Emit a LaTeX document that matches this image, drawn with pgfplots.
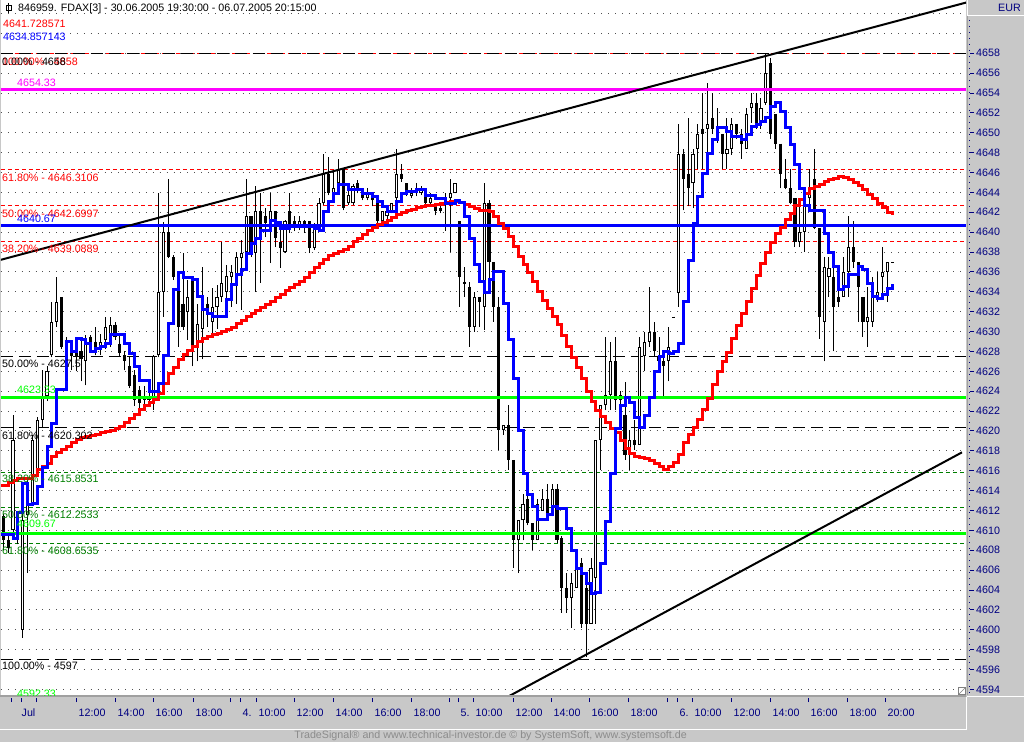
\documentclass[border=0pt]{standalone}
\usepackage{fontspec}
\setmainfont{Liberation Sans}
\usepackage{pgfplots}
\usepackage{pgfplotstable}
\pgfplotsset{compat=1.18}

\definecolor{panelgray}{RGB}{200,200,200}
\definecolor{edgegray}{RGB}{160,160,160}
\definecolor{navytext}{RGB}{0,0,128}
\definecolor{fibgreen}{RGB}{0,128,0}
\definecolor{levelgreen}{RGB}{0,255,0}
\definecolor{levelmagenta}{RGB}{255,0,255}
\definecolor{gridgray}{RGB}{80,80,80}
\definecolor{footgray}{RGB}{140,140,140}

\newcommand{\lbl}{\fontsize{10.7}{12}\selectfont}

% FDAX 15 min bars, x = bar number
\pgfplotstableread{
i o h l c
1 4611.4 4611.6 4608.0 4609.0
2 4609.0 4609.4 4607.7 4608.2
3 4610.0 4621.6 4609.4 4619.1
4 4611.0 4611.8 4608.6 4609.5
5 4600.0 4612.0 4599.2 4611.0
6 4611.5 4615.1 4605.7 4614.5
7 4612.7 4619.6 4612.5 4619.1
8 4615.8 4621.4 4615.6 4621.1
9 4621.1 4626.1 4620.4 4623.5
10 4623.5 4626.5 4623.0 4626.0
11 4627.6 4633.0 4627.4 4631.0
12 4631.0 4635.5 4630.5 4633.0
13 4633.5 4633.5 4628.2 4628.5
14 4628.2 4629.5 4627.6 4629.0
15 4628.0 4629.2 4626.1 4627.5
16 4628.0 4628.8 4626.0 4627.5
17 4628.0 4629.2 4625.0 4627.2
18 4627.0 4629.7 4624.6 4628.8
19 4629.5 4629.7 4628.0 4628.8
20 4629.0 4630.5 4627.6 4628.3
21 4628.5 4629.8 4627.6 4629.0
22 4629.2 4631.5 4628.2 4630.5
23 4629.7 4631.5 4628.5 4630.7
24 4630.7 4631.0 4629.2 4629.5
25 4628.8 4629.7 4627.5 4627.8
26 4627.6 4628.0 4626.1 4627.0
27 4626.5 4627.5 4624.3 4624.5
28 4625.6 4626.1 4622.5 4623.1
29 4624.1 4624.5 4621.6 4622.8
30 4623.5 4624.5 4622.5 4623.1
31 4623.1 4624.8 4622.5 4623.5
32 4623.1 4627.6 4622.1 4627.5
33 4627.6 4643.9 4627.4 4634.0
34 4634.0 4641.0 4631.5 4640.0
35 4640.0 4645.4 4637.4 4637.5
36 4637.5 4637.7 4635.2 4635.5
37 4634.2 4634.4 4628.5 4630.5
38 4632.8 4637.9 4630.2 4630.5
39 4632.0 4635.2 4629.2 4633.5
40 4635.4 4635.5 4626.5 4628.5
41 4628.5 4632.8 4627.0 4630.8
42 4630.3 4636.5 4627.2 4633.5
43 4632.8 4633.5 4630.5 4632.0
44 4631.0 4634.4 4629.5 4632.5
45 4632.5 4634.7 4630.3 4633.5
46 4633.5 4639.0 4633.0 4634.9
47 4634.0 4636.7 4633.0 4635.6
48 4635.5 4636.7 4632.5 4636.0
49 4635.0 4638.0 4632.8 4637.5
50 4637.4 4639.2 4632.2 4637.9
51 4638.0 4645.4 4637.7 4641.6
52 4641.6 4641.6 4637.5 4637.9
53 4637.9 4644.6 4634.0 4642.1
54 4642.1 4643.9 4634.9 4639.9
55 4641.6 4642.4 4639.5 4640.9
56 4640.9 4643.9 4636.9 4642.1
57 4642.1 4642.1 4638.5 4639.4
58 4639.0 4640.2 4636.4 4638.4
59 4638.0 4641.2 4637.9 4641.1
60 4642.1 4643.9 4639.9 4640.2
61 4641.1 4641.6 4640.1 4640.6
62 4640.6 4641.6 4640.2 4641.1
63 4641.1 4641.2 4639.9 4640.4
64 4641.1 4641.1 4637.9 4638.4
65 4638.4 4640.9 4638.2 4640.6
66 4640.7 4643.4 4640.4 4642.9
67 4642.9 4647.9 4642.7 4645.9
68 4645.9 4647.6 4643.7 4643.9
69 4643.9 4646.1 4643.7 4644.4
70 4644.9 4647.4 4644.4 4646.4
71 4646.4 4646.4 4642.2 4642.4
72 4642.9 4644.9 4642.7 4643.7
73 4642.9 4644.8 4642.7 4644.6
74 4644.9 4645.3 4643.9 4644.4
75 4644.4 4644.4 4643.2 4643.4
76 4643.4 4644.4 4643.2 4643.9
77 4643.2 4643.6 4642.6 4643.4
78 4643.4 4643.4 4640.9 4641.1
79 4641.1 4642.1 4640.6 4642.1
80 4641.6 4642.6 4641.1 4642.1
81 4642.1 4642.9 4641.9 4642.9
82 4643.4 4648.4 4642.9 4645.9
83 4645.9 4646.9 4645.1 4645.4
84 4644.9 4644.9 4643.6 4643.9
85 4643.6 4644.4 4643.4 4643.9
86 4643.9 4644.9 4643.6 4644.4
87 4643.9 4644.6 4643.7 4644.4
88 4643.9 4644.4 4642.7 4642.9
89 4642.9 4643.9 4642.7 4643.4
90 4642.9 4642.9 4641.7 4642.1
91 4642.4 4642.7 4641.9 4642.1
92 4642.7 4643.9 4640.1 4643.4
93 4643.4 4645.4 4638.0 4643.9
94 4643.9 4644.9 4643.9 4644.9
95 4641.1 4641.1 4632.5 4635.5
96 4635.0 4636.5 4633.5 4634.8
97 4634.5 4635.0 4628.5 4630.5
98 4630.5 4634.0 4630.0 4633.5
99 4633.5 4633.5 4630.5 4633.0
100 4632.5 4644.9 4630.2 4642.9
101 4642.9 4643.2 4635.2 4637.0
102 4637.0 4637.0 4631.0 4632.5
103 4632.5 4633.5 4618.1 4620.1
104 4620.1 4620.6 4619.6 4620.6
105 4620.6 4622.6 4616.1 4617.1
106 4617.1 4617.1 4606.2 4609.0
107 4609.0 4611.0 4605.7 4611.0
108 4611.0 4613.7 4609.0 4612.7
109 4613.2 4613.7 4610.5 4610.7
110 4610.7 4610.7 4608.0 4609.0
111 4609.0 4613.2 4609.0 4612.7
112 4612.0 4614.2 4612.0 4613.2
113 4613.2 4614.7 4611.4 4611.5
114 4612.0 4614.7 4611.4 4614.2
115 4614.2 4614.7 4608.7 4609.0
116 4609.2 4609.4 4601.7 4604.2
117 4604.2 4605.7 4601.7 4603.2
118 4603.2 4605.7 4600.2 4604.7
119 4604.2 4607.2 4604.2 4606.2
120 4606.7 4607.2 4600.2 4600.6
121 4604.2 4604.7 4597.3 4600.6
122 4600.6 4607.2 4600.6 4606.2
123 4605.2 4619.1 4600.6 4619.1
124 4619.1 4622.6 4616.1 4622.6
125 4622.6 4629.5 4622.1 4623.6
126 4623.6 4629.0 4622.1 4627.0
127 4627.0 4629.5 4622.1 4623.1
128 4623.1 4624.0 4622.6 4623.6
129 4621.6 4624.9 4617.1 4617.6
130 4617.6 4620.1 4616.1 4619.1
131 4619.1 4621.1 4618.1 4618.6
132 4618.6 4629.5 4618.6 4628.5
133 4627.5 4630.0 4626.0 4629.0
134 4629.0 4634.5 4628.5 4630.0
135 4630.0 4631.0 4627.5 4628.0
136 4627.5 4629.5 4626.0 4627.0
137 4627.0 4628.0 4623.5 4626.5
138 4627.0 4630.5 4625.0 4628.5
139 4631.5 4631.5 4631.4 4631.4
140 4633.9 4650.9 4632.5 4647.9
141 4647.9 4648.4 4642.2 4645.4
142 4645.9 4651.5 4642.6 4644.4
143 4644.9 4648.4 4642.4 4647.9
144 4648.4 4650.9 4646.4 4649.9
145 4650.4 4654.0 4646.4 4649.9
146 4650.4 4655.0 4647.9 4650.9
147 4651.5 4654.0 4649.9 4650.4
148 4650.0 4652.5 4649.0 4650.4
149 4649.9 4649.9 4646.4 4647.9
150 4647.9 4651.5 4646.4 4648.4
151 4648.4 4651.5 4647.8 4650.9
152 4650.9 4650.9 4649.4 4649.9
153 4649.9 4650.4 4647.4 4648.9
154 4648.4 4652.5 4648.4 4651.9
155 4652.5 4654.0 4651.0 4653.0
156 4653.0 4654.0 4650.4 4651.0
157 4651.0 4653.5 4650.4 4652.5
158 4653.0 4658.0 4652.8 4656.0
159 4657.0 4657.5 4649.4 4649.9
160 4651.9 4651.9 4648.4 4648.9
161 4648.9 4648.9 4644.4 4645.9
162 4645.4 4647.4 4644.3 4644.4
163 4644.4 4646.4 4642.8 4642.9
164 4643.4 4643.4 4638.5 4639.0
165 4639.0 4642.6 4638.5 4640.0
166 4640.0 4643.4 4638.0 4642.6
167 4643.4 4646.4 4642.2 4644.4
168 4645.4 4648.4 4640.3 4640.4
169 4640.4 4640.4 4629.3 4631.5
170 4631.0 4637.5 4627.0 4636.5
171 4635.5 4637.5 4633.5 4636.4
172 4635.5 4637.5 4628.0 4632.5
173 4633.5 4635.5 4632.5 4633.0
174 4633.5 4637.5 4633.5 4636.0
175 4636.0 4641.6 4633.5 4638.5
176 4638.5 4641.1 4636.4 4637.0
177 4637.0 4637.0 4631.0 4634.5
178 4633.5 4633.5 4629.5 4631.0
179 4631.0 4634.5 4628.5 4631.5
180 4631.0 4635.5 4630.5 4633.5
181 4633.5 4636.0 4633.0 4634.0
182 4635.5 4638.5 4633.5 4636.0
183 4636.0 4637.0 4633.0 4637.0
184 4637.0 4637.0 4636.9 4636.9
}\candles

% stepped indicator lines (red and blue), one value per bar
\pgfplotstableread{
i red blue
0.5 4614.5 4609.6
1 4614.5 4609.6
2 4614.8 4609.6
3 4615.0 4609.2
4 4615.2 4611.8
5 4615.2 4614.7
6 4615.2 4612.6
7 4615.5 4612.7
8 4616.1 4614.4
9 4616.4 4616.3
10 4616.7 4618.4
11 4617.4 4620.8
12 4617.8 4624.2
13 4618.1 4624.2
14 4618.4 4629.0
15 4618.8 4628.0
16 4619.1 4629.3
17 4619.3 4629.2
18 4619.4 4628.8
19 4619.5 4628.0
20 4619.6 4628.3
21 4619.8 4628.5
22 4619.9 4628.8
23 4620.0 4629.7
24 4620.3 4629.7
25 4620.5 4629.7
26 4620.9 4628.8
27 4621.3 4627.8
28 4621.7 4626.5
29 4622.2 4625.1
30 4622.6 4625.1
31 4622.9 4624.0
32 4623.2 4624.0
33 4623.8 4624.8
34 4624.8 4627.6
35 4625.8 4630.8
36 4626.4 4634.2
37 4627.2 4635.9
38 4627.7 4635.4
39 4628.1 4635.4
40 4628.5 4635.2
41 4629.0 4633.5
42 4629.3 4632.2
43 4629.5 4631.8
44 4629.7 4631.5
45 4629.8 4631.5
46 4630.0 4631.5
47 4630.2 4633.2
48 4630.4 4634.7
49 4630.8 4635.7
50 4631.1 4636.2
51 4631.5 4637.9
52 4631.8 4638.9
53 4632.1 4639.4
54 4632.4 4640.2
55 4632.7 4640.2
56 4633.0 4641.2
57 4633.4 4641.0
58 4633.7 4640.4
59 4634.1 4640.4
60 4634.4 4640.6
61 4634.7 4640.6
62 4635.0 4640.6
63 4635.4 4640.6
64 4635.9 4640.6
65 4636.4 4640.4
66 4636.9 4640.2
67 4637.3 4642.1
68 4637.7 4643.1
69 4637.9 4643.9
70 4638.1 4644.8
71 4638.3 4644.8
72 4638.6 4644.3
73 4639.1 4644.3
74 4639.4 4644.3
75 4639.8 4643.9
76 4640.2 4643.9
77 4640.5 4643.6
78 4640.8 4643.1
79 4641.0 4642.6
80 4641.2 4642.1
81 4641.5 4642.1
82 4641.8 4643.1
83 4642.0 4643.9
84 4642.2 4644.1
85 4642.3 4644.1
86 4642.5 4644.3
87 4642.6 4644.3
88 4642.7 4643.7
89 4642.7 4643.7
90 4642.8 4643.4
91 4642.9 4643.4
92 4643.0 4642.9
93 4643.1 4642.9
94 4643.1 4643.2
95 4643.0 4643.0
96 4642.8 4641.6
97 4642.6 4639.4
98 4642.4 4636.7
99 4642.2 4635.0
100 4642.2 4633.9
101 4642.1 4635.2
102 4641.6 4636.0
103 4640.9 4636.0
104 4640.4 4632.8
105 4639.6 4629.2
106 4638.6 4625.3
107 4637.6 4620.1
108 4636.7 4615.7
109 4635.9 4613.6
110 4635.0 4612.4
111 4634.0 4611.1
112 4633.1 4611.1
113 4632.3 4611.6
114 4631.5 4612.4
115 4630.7 4612.2
116 4629.6 4612.2
117 4628.5 4610.2
118 4627.4 4608.0
119 4626.4 4606.2
120 4625.3 4605.7
121 4624.0 4604.7
122 4623.0 4603.7
123 4622.1 4603.8
124 4621.5 4606.7
125 4620.9 4610.9
126 4620.3 4615.7
127 4619.8 4620.3
128 4619.0 4622.6
129 4618.2 4623.4
130 4617.7 4622.9
131 4617.4 4621.4
132 4617.3 4620.4
133 4617.2 4621.6
134 4617.0 4623.4
135 4616.7 4626.0
136 4616.4 4627.5
137 4616.1 4628.0
138 4616.4 4627.8
139 4616.8 4628.0
140 4617.6 4628.8
141 4618.8 4633.0
142 4619.6 4637.2
143 4620.4 4640.9
144 4621.2 4643.6
145 4622.2 4645.9
146 4623.3 4647.9
147 4624.7 4649.3
148 4626.0 4650.5
149 4627.0 4650.5
150 4627.9 4650.1
151 4629.3 4649.6
152 4630.6 4649.6
153 4631.8 4649.3
154 4633.0 4649.8
155 4634.3 4650.6
156 4635.6 4650.8
157 4636.9 4651.1
158 4638.0 4651.5
159 4639.0 4652.6
160 4639.9 4653.0
161 4640.5 4652.1
162 4641.3 4650.5
163 4641.9 4648.8
164 4642.7 4646.8
165 4643.3 4644.4
166 4643.9 4642.7
167 4644.4 4642.2
168 4644.6 4642.2
169 4644.8 4642.2
170 4645.1 4639.9
171 4645.3 4638.0
172 4645.4 4636.5
173 4645.6 4634.2
174 4645.5 4634.5
175 4645.3 4635.7
176 4645.0 4635.7
177 4644.7 4636.5
178 4644.3 4636.2
179 4643.8 4634.8
180 4643.4 4633.5
181 4642.9 4633.3
182 4642.5 4633.7
183 4642.0 4634.3
184 4641.7 4634.8
}\averages

\begin{document}
\begin{tikzpicture}
\begin{scope}[x=1pt,y=1pt]
  \fill[panelgray] (0,0) rectangle (1024,742);
  \fill[white] (1,47) rectangle (966,742);
\end{scope}

\begin{axis}[
  at={(1pt,47pt)}, anchor=south west,
  width=965pt, height=695pt, scale only axis,
  xmin=0.5265, xmax=199.21,
  ymin=4593.44, ymax=4663.36,
  axis line style={draw=none},
  clip=true,
  xtick pos=left, ytick pos=right, yticklabel pos=right,
  tick align=outside,
  major tick length=4pt,
  xtick={4.850,15.968,23.998,31.822,40.057,49.734,53.028,60.852,68.881,76.911,84.941,94.617,97.706,105.941,113.765,121.589,129.618,139.707,142.795,150.825,158.855,166.678,174.708,182.532},
  xticklabels={\hspace*{-3pt}Jul,12:00,14:00,16:00,18:00,4.,10:00,12:00,14:00,16:00,18:00,5.,10:00,12:00,14:00,16:00,18:00,6.,10:00,12:00,14:00,16:00,18:00,20:00},
  extra x ticks={2.791,7.733,47.675,92.764,137.648},
  extra x tick labels={},
  ytick={4594,4596,...,4658},
  extra y ticks={4660,4662},
  extra y tick labels={},
  extra y tick style={tick style={draw=none}},
  ymajorgrids,
  grid style={gridgray, line width=1pt, dash pattern=on 1pt off 5.9pt},
  xtick style={navytext, line width=1pt, yshift=-3pt},
  ytick style={navytext, line width=1pt, xshift=4pt},
  tick label style={font=\lbl, text=navytext, inner sep=0pt},
  xticklabel style={anchor=west, xshift=2.5pt, yshift=-14pt},
  yticklabel style={anchor=west, xshift=6pt},
  scaled y ticks=false,
  /pgf/number format/1000 sep={},
  /pgf/number format/assume math mode=true,
]

% Fibonacci retracement levels
\addplot[red, line width=1pt, dash pattern=on 4pt off 3pt] coordinates {(0.5,4658) (199.3,4658)};
\addplot[red, line width=1pt, dash pattern=on 4pt off 3pt] coordinates {(0.5,4646.3106) (199.3,4646.3106)};
\addplot[red, line width=1pt, dash pattern=on 4pt off 3pt] coordinates {(0.5,4642.6997) (199.3,4642.6997)};
\addplot[red, line width=1pt, dash pattern=on 4pt off 3pt] coordinates {(0.5,4639.0889) (199.3,4639.0889)};
\addplot[black, line width=1pt, dash pattern=on 12pt off 6pt] coordinates {(0.5,4658) (199.3,4658)};
\addplot[black, line width=1pt, dash pattern=on 12pt off 6pt] coordinates {(0.5,4627.5) (199.3,4627.5)};
\addplot[black, line width=1pt, dash pattern=on 12pt off 6pt] coordinates {(0.5,4620.302) (199.3,4620.302)};
\addplot[black, line width=1pt, dash pattern=on 12pt off 6pt] coordinates {(0.5,4597) (199.3,4597)};
\addplot[fibgreen, line width=1pt, dash pattern=on 4pt off 3pt] coordinates {(0.5,4615.8531) (199.3,4615.8531)};
\addplot[fibgreen, line width=1pt, dash pattern=on 4pt off 3pt] coordinates {(0.5,4612.2533) (199.3,4612.2533)};
\addplot[fibgreen, line width=1pt, dash pattern=on 4pt off 3pt] coordinates {(0.5,4608.6535) (199.3,4608.6535)};

% candles: wicks (low to high), bodies (open to close), hollow inside of rising bars
\addplot[black, line width=1pt, mark=none, quiver={u=0, v=\thisrow{h}-\thisrow{l}}]
  table[x=i, y=l] {\candles};
\addplot[black, line width=3.2pt, mark=none, quiver={u=0, v=\thisrow{c}-\thisrow{o}}]
  table[x=i, y=o] {\candles};
\addplot[white, line width=1.2pt, mark=none,
  quiver={u=0, v={max(\thisrow{c}-\thisrow{o}-0.2,0)*(\thisrow{c}>\thisrow{o})}}]
  table[x=i, y expr=\thisrow{o}+0.1] {\candles};

% horizontal levels
\addplot[levelmagenta, line width=3pt] coordinates {(0.5,4654.33) (199.3,4654.33)};
\addplot[blue, line width=3pt] coordinates {(0.5,4640.67) (199.3,4640.67)};
\addplot[levelgreen, line width=3pt] coordinates {(0.5,4623.33) (199.3,4623.33)};
\addplot[levelgreen, line width=3pt] coordinates {(0.5,4609.67) (199.3,4609.67)};
\addplot[levelgreen, line width=3pt] coordinates {(0.5,4592.33) (199.3,4592.33)};

% trend channel
\addplot[black, line width=2pt] coordinates {(0.32,4637.2) (199.21,4663.1)};
\addplot[black, line width=2pt] coordinates {(103.27,4592.84) (198.38,4617.85)};

% stepped averages
\addplot[const plot, red, line width=3pt] table[x=i, y=red] {\averages};
\addplot[const plot, blue, line width=3pt] table[x=i, y=blue] {\averages};
\end{axis}

\begin{scope}[x=1pt,y=1pt, every node/.style={font=\lbl, inner sep=0pt, anchor=west}]
  % panel borders
  \draw[edgegray, line width=2pt] (0,46) -- (966,46);
  \draw[white, line width=1pt] (966.5,45) -- (966.5,12.5) -- (0,12.5);
  \draw[white, line width=1pt] (967,46) -- (1024,46);
  \draw[white, line width=1pt] (967,742) -- (967,726.5) -- (1024,726.5);
  \draw[edgegray, line width=1.5pt] (967.6,726) -- (967.6,47);
  \draw[navytext, line width=1pt, dash pattern=on 1pt off 5pt] (969.8,722) -- (969.8,47);
  % size grip
  \filldraw[fill=white, draw=gray] (958.5,47.5) rectangle (965.5,54.5);
  \draw[gray] (959,48) -- (965,54);
  % title icon
  \draw[black] (6,732) rectangle (11,737);
  \draw[black] (8.5,739) -- (8.5,729);

  \node at (18,733) {846959. FDAX[3] - 30.06.2005 19:30:00 - 06.07.2005 20:15:00};
  \node[text=red] at (3,718.5) {4641.728571};
  \node[text=blue] at (3,705) {4634.857143};

  % retracement labels
  \node[text=red] at (2,680.5) {100.00\% - 4658};
  \node[text=black] at (2,680.5) {0.00\% - 4658};
  \node[text=red] at (2,564.5) {61.80\% - 4646.3106};
  \node[text=red] at (2,528.6) {50.00\% - 4642.6997};
  \node[text=red] at (2,492.7) {38.20\% - 4639.0889};
  \node[text=black] at (2,378) {50.00\% - 4627.5};
  \node[text=black] at (2,306.5) {61.80\% - 4620.302};
  \node[text=black] at (2,76) {100.00\% - 4597};
  \node[text=fibgreen] at (2,263.5) {38.20\% - 4615.8531};
  \node[text=fibgreen] at (2,227.5) {50.00\% - 4612.2533};
  \node[text=fibgreen] at (2,191.2) {61.80\% - 4608.6535};

  % level labels
  \node[text=levelmagenta] at (17,658.7) {4654.33};
  \node[text=blue] at (17,523) {4640.67};
  \node[text=levelgreen] at (17,352) {4623.33};
  \node[text=levelgreen] at (17,217.7) {4609.67};
  \begin{scope}
    \clip (1,47) rectangle (966,742);
    \node[text=levelgreen] at (17,48) {4592.33};
  \end{scope}

  \node[text=navytext, anchor=east] at (1021,733.7) {EUR};
  \node[text=footgray, anchor=east] at (687,6.5) {TradeSignal® and www.technical-investor.de © by  SystemSoft, www.systemsoft.de};
\end{scope}
\pgfresetboundingbox
\useasboundingbox (0,0) rectangle (1024pt,742pt);
\end{tikzpicture}
\end{document}
